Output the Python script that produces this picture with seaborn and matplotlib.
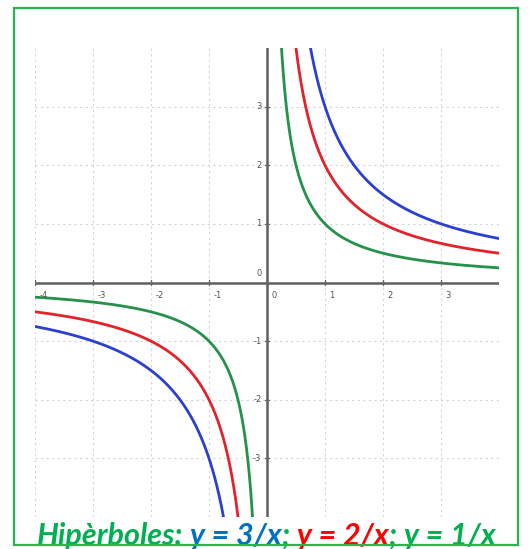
import numpy as np
import pandas as pd
import matplotlib.pyplot as plt
import seaborn as sns
from matplotlib.patches import Rectangle

# hyperbolas y = k / x
coefs = [3, 2, 1]
curve_colors = ["#2b3fd0", "#e3222b", "#24924a"]
x_ticks = [-4, -3, -2, -1, 0, 1, 2, 3]
y_ticks = [-3, -2, -1, 0, 1, 2, 3]
title_parts = ["Hipèrboles:", "y = 3/x", ";", "y = 2/x", ";", "y = 1/x"]
title_colors = ["#00b050", "#0070c0", "#00b050", "#ff0000", "#00b050", "#00b050"]

sns.set_style("white")
fig = plt.figure(figsize=(5.29, 5.49), dpi=100)
W, H = 529, 549
ax = fig.add_axes([35 / W, 1 - 517 / H, 464 / W, 469 / H])

# build a long table for seaborn, one branch per side of zero
rows = []
for k in coefs:
    for side, xs in (("neg", np.linspace(-4, -0.05, 400)), ("pos", np.linspace(0.05, 4, 400))):
        rows.append(pd.DataFrame({"x": xs, "y": k / xs, "k": f"{k}", "branch": f"{k}{side}"}))
df = pd.concat(rows)

sns.lineplot(data=df, x="x", y="y", hue="k", units="branch", estimator=None,
             palette=dict(zip([str(k) for k in coefs], curve_colors)),
             linewidth=2, legend=False, ax=ax, sort=False, zorder=3)

ax.set_xlim(-4, 4)
ax.set_ylim(-4, 4)
ax.set_xlabel("")
ax.set_ylabel("")
ax.set_xticks(x_ticks + [4])
ax.set_yticks(y_ticks)
ax.grid(True, color="#d4d4d4", linestyle=(0, (2, 3)), linewidth=0.8)
ax.tick_params(labelbottom=False, labelleft=False, length=0)

for s in ax.spines.values():
    s.set_visible(False)
ax.axhline(0, color="#5f5f5f", lw=1.8, zorder=2)
ax.axvline(0, color="#5f5f5f", lw=1.8, zorder=2)

# small tick marks and labels the way the original graph tool shows them
for t in x_ticks:
    ax.plot([t, t], [-0.04, 0.04], color="#666666", lw=1, zorder=2)
    ax.annotate(f"{t}", (t, 0), xytext=(3, -6), textcoords="offset points",
                ha="left", va="top", fontsize=6, color="#555555")
for t in y_ticks:
    if t == 0:
        continue
    ax.plot([-0.04, 0.04], [t, t], color="#666666", lw=1, zorder=2)
    ax.annotate(f"{t}", (0, t), xytext=(-4, 0), textcoords="offset points",
                ha="right", va="center", fontsize=6, color="#555555")
ax.annotate("0", (0, 0), xytext=(-4, 3), textcoords="offset points",
            ha="right", va="bottom", fontsize=6, color="#555555")

# multi-coloured caption below the plot
prev = None
for i, (txt, col) in enumerate(zip(title_parts, title_colors)):
    kw = dict(fontsize=22, fontweight="bold", fontstyle="italic",
              family=["Lato", "DejaVu Sans"], color=col, va="baseline", ha="left")
    if prev is None:
        prev = fig.text(37 / W, 1 - 545 / H, txt, **kw)
    else:
        gap = 0 if txt == ";" else 5
        prev = ax.annotate(txt, xy=(1, 0), xycoords=prev, xytext=(gap, 0),
                           textcoords="offset points", annotation_clip=False,
                           **{**kw, "va": "bottom"})

fig.patches.append(Rectangle((14 / W, 1 - 545 / H), 504 / W, 537 / H,
                             transform=fig.transFigure, fill=False,
                             edgecolor="#2cb34f", linewidth=1.6, zorder=5))

fig.savefig("out.png", dpi=100)
